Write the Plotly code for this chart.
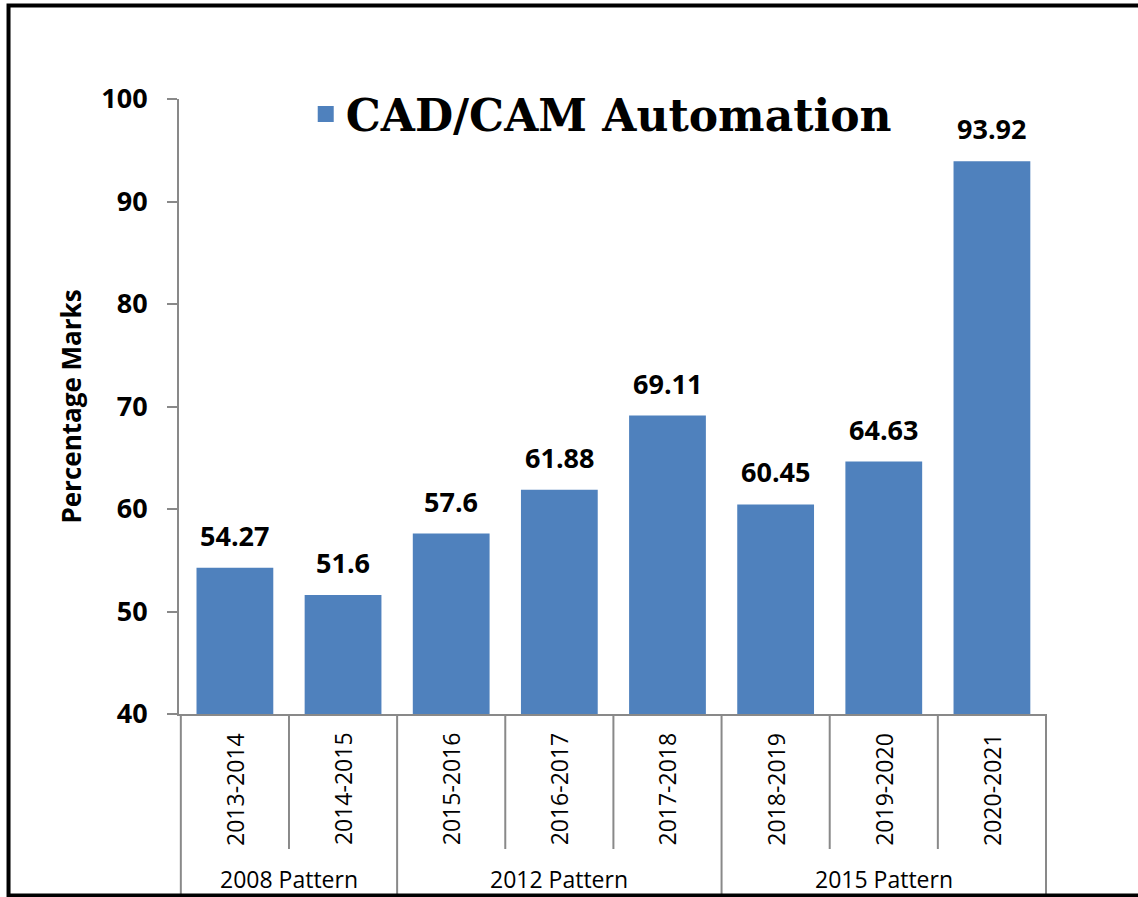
"""CAD/CAM Automation result percentages by academic year."""
import plotly.graph_objects as go

# Data
years = ["2013-2014", "2014-2015", "2015-2016", "2016-2017",
         "2017-2018", "2018-2019", "2019-2020", "2020-2021"]
marks = [54.27, 51.6, 57.6, 61.88, 69.11, 60.45, 64.63, 93.92]
mark_labels = ["54.27", "51.6", "57.6", "61.88", "69.11", "60.45", "64.63", "93.92"]
patterns = ["2008 Pattern", "2012 Pattern", "2015 Pattern"]
pattern_sizes = [2, 3, 3]

BLUE = "#4F81BD"
GREY = "#898989"
FONT = "Open Sans"

fig = go.Figure()

fig.add_trace(go.Bar(
    x=years, y=marks,
    marker=dict(color=BLUE, line=dict(width=0)),
    showlegend=False,
    hoverinfo="x+y",
))

# legend entry with a bigger square than the default bar symbol
fig.add_trace(go.Scatter(
    x=[years[0]], y=[None], mode="markers",
    name="CAD/CAM Automation",
    marker=dict(symbol="square", size=20, color=BLUE),
))

annotations = []
shapes = []

# value labels above bars
for yr, v, lab in zip(years, marks, mark_labels):
    annotations.append(dict(
        x=yr, y=v, xref="x", yref="y", text=lab, showarrow=False,
        yanchor="bottom", yshift=12,
        font=dict(family=FONT, size=27, color="black", weight="bold"),
    ))

# rotated year labels
for yr in years:
    annotations.append(dict(
        x=yr, y=-0.122, xref="x", yref="paper", text=yr, showarrow=False,
        textangle=-90, yanchor="middle",
        font=dict(family=FONT, size=23, color="black"),
    ))

# group labels and dividers
start = 0
boundaries = [-0.5]
for name, n in zip(patterns, pattern_sizes):
    center = start + (n - 1) / 2
    annotations.append(dict(
        x=center, y=-0.269, xref="x", yref="paper", text=name, showarrow=False,
        yanchor="middle",
        font=dict(family=FONT, size=23, color="black"),
    ))
    start += n
    boundaries.append(start - 0.5)

for i in range(len(years) + 1):
    pos = i - 0.5
    bottom = -0.2951 if pos in boundaries else -0.2195
    shapes.append(dict(
        type="line", xref="x", yref="paper",
        x0=pos, x1=pos, y0=0, y1=bottom,
        line=dict(color=GREY, width=2),
    ))

# outer chart border (right edge falls outside the picture)
shapes.append(dict(
    type="rect", xref="paper", yref="paper",
    x0=-0.1964, x1=1.13, y0=-0.2951, y1=1.152,
    line=dict(color="black", width=4),
))

fig.update_layout(
    width=1138, height=897,
    margin=dict(l=179, r=91, t=99, b=183),
    paper_bgcolor="white", plot_bgcolor="white",
    bargap=0.29,
    showlegend=True,
    legend=dict(
        x=0.146, y=0.975, xanchor="left", yanchor="middle",
        font=dict(family="DejaVu Serif", size=44, color="black", weight="bold"),
        itemsizing="trace", bgcolor="rgba(0,0,0,0)",
    ),
    annotations=annotations,
    shapes=shapes,
)

fig.update_xaxes(
    type="category", showticklabels=False, showline=True,
    linecolor=GREY, linewidth=2, ticks="", showgrid=False,
)
fig.update_yaxes(
    range=[40, 100], dtick=10, showgrid=False, zeroline=False,
    showline=True, linecolor=GREY, linewidth=2,
    ticks="outside", ticklen=10, tickcolor=GREY, tickwidth=2,
    ticklabelstandoff=14,
    tickfont=dict(family=FONT, size=27, color="black", weight="bold"),
    title=dict(text="Percentage Marks", standoff=12,
               font=dict(family=FONT, size=26, color="black", weight="bold")),
)

# drop the default body margin so the figure fills the window exactly
fig.write_html(
    "out.html",
    config={"displayModeBar": False},
    post_script="document.body.style.margin='0';",
)
